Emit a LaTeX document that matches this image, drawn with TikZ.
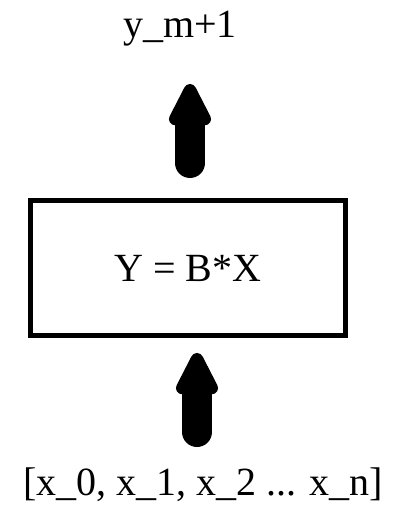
\documentclass[tikz,border=0pt]{standalone}
\usepackage{fontspec}
\setmainfont{Liberation Serif}
\usetikzlibrary{arrows.meta}
\begin{document}
\begin{tikzpicture}[x=1pt,y=-1pt,
  lbl/.style={font=\fontsize{40}{48}\selectfont, inner sep=0pt},
  procbox/.style={draw, line width=5pt, minimum width=315pt, minimum height=135pt, inner sep=0pt, font=\fontsize{40}{48}\selectfont},
  fatarrow/.style={line width=30pt, line cap=round, -{Triangle[width=46pt,length=50pt,round]}}]
\useasboundingbox (0,0) rectangle (392,508);
\node[lbl, anchor=base] (out) at (180,38) {y\_m+1};
\node[procbox] (box) at (188,268) {Y = B*X};
\node[lbl, anchor=base] (in) at (203,495) {[x\_0, x\_1, x\_2 ... x\_n]};
\coordinate (a1s) at (190,163);
\coordinate (a1e) at (190,84);
\coordinate (a2s) at (197,432);
\coordinate (a2e) at (197,353);
\draw[fatarrow] (a1s) -- (a1e);
\draw[fatarrow] (a2s) -- (a2e);
\end{tikzpicture}
\end{document}
